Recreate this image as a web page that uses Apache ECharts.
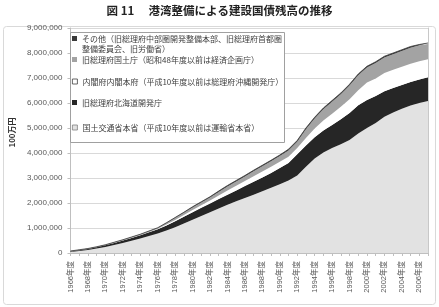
<!DOCTYPE html>
<html>
<head>
<meta charset="utf-8">
<script src="https://cdn.jsdelivr.net/npm/echarts@6/dist/echarts.min.js"></script>
<style>
  html, body { margin: 0; padding: 0; background: #fff; }
  #chart { width: 439px; height: 307px; }
</style>
</head>
<body>
<div id="chart"></div>
<script>
// 年度
const years = [
  "1966年度", "1967年度", "1968年度", "1969年度", "1970年度", "1971年度", "1972年度",
  "1973年度", "1974年度", "1975年度", "1976年度", "1977年度", "1978年度", "1979年度",
  "1980年度", "1981年度", "1982年度", "1983年度", "1984年度", "1985年度", "1986年度",
  "1987年度", "1988年度", "1989年度", "1990年度", "1991年度", "1992年度", "1993年度",
  "1994年度", "1995年度", "1996年度", "1997年度", "1998年度", "1999年度", "2000年度",
  "2001年度", "2002年度", "2003年度", "2004年度", "2005年度", "2006年度", "2007年度"
];

// 残高（100万円）— 下から積み上げ
const mlit = [
  40000, 80000, 120000, 180000, 240000, 320000, 400000, 490000, 580000, 680000,
  780000, 900000, 1030000, 1180000, 1330000, 1480000, 1630000, 1780000, 1930000, 2070000,
  2200000, 2330000, 2470000, 2610000, 2750000, 2900000, 3100000, 3450000, 3780000, 4020000,
  4200000, 4350000, 4520000, 4780000, 5000000, 5200000, 5450000, 5620000, 5770000, 5900000,
  6000000, 6080000
];
const hokkaido = [
  20000, 30000, 40000, 50000, 70000, 80000, 100000, 110000, 130000, 150000,
  170000, 200000, 240000, 270000, 300000, 330000, 350000, 380000, 400000, 430000,
  480000, 520000, 550000, 590000, 650000, 700000, 850000, 850000, 850000, 880000,
  920000, 1000000, 1080000, 1130000, 1120000, 1080000, 1020000, 980000, 950000, 940000,
  940000, 950000
];
const naikakufu = [
  0, 0, 5000, 5000, 5000, 10000, 10000, 10000, 10000, 10000,
  20000, 40000, 50000, 70000, 90000, 100000, 120000, 140000, 170000, 190000,
  200000, 220000, 240000, 250000, 250000, 250000, 250000, 300000, 350000, 400000,
  450000, 500000, 550000, 600000, 700000, 700000, 730000, 730000, 730000, 730000,
  730000, 720000
];
const kokudo = [
  10000, 10000, 5000, 5000, 5000, 10000, 10000, 20000, 20000, 30000,
  30000, 50000, 80000, 90000, 100000, 110000, 120000, 140000, 160000, 170000,
  180000, 200000, 210000, 220000, 230000, 250000, 250000, 350000, 400000, 450000,
  480000, 500000, 550000, 600000, 600000, 620000, 620000, 620000, 630000, 640000,
  640000, 610000
];
const sonota = [
  10000, 10000, 10000, 10000, 10000, 10000, 10000, 10000, 10000, 10000,
  10000, 20000, 20000, 20000, 30000, 30000, 30000, 40000, 40000, 40000,
  40000, 40000, 40000, 40000, 40000, 50000, 50000, 50000, 50000, 50000,
  50000, 50000, 50000, 50000, 50000, 50000, 50000, 50000, 50000, 50000,
  30000, 40000
];

const yTicks = { min: 0, max: 9000000, interval: 1000000 };

const names = {
  sonota: "その他（旧総理府中部圏開発整備本部、旧総理府首都圏整備委員会、旧労働省）",
  kokudo: "旧総理府国土庁（昭和48年度以前は経済企画庁）",
  naikakufu: "内閣府内閣本府（平成10年度以前は総理府沖縄開発庁）",
  hokkaido: "旧総理府北海道開発庁",
  mlit: "国土交通省本省（平成10年度以前は運輸省本省）"
};

const jp = '"Noto Sans CJK JP", sans-serif';
const num = '"Liberation Sans", "Noto Sans CJK JP", sans-serif';

const chart = echarts.init(document.getElementById("chart"));

function areaSeries(name, data, color, lineColor) {
  return {
    type: "line",
    name: name,
    stack: "total",
    data: data,
    symbol: "none",
    smooth: false,
    itemStyle: { color: color },
    lineStyle: { width: lineColor ? 0.8 : 0, color: lineColor || color },
    areaStyle: { color: color, opacity: 1 },
    emphasis: { disabled: true },
    z: 2
  };
}

// 凡例を1項目ずつ配置
function legendItem(name, top, border, label) {
  return {
    data: [{ name: name, itemStyle: border ? { borderColor: border, borderWidth: 0.8 } : {} }],
    left: 72,
    top: top,
    padding: 0,
    icon: "rect",
    itemWidth: 5,
    itemHeight: 5,
    selectedMode: false,
    z: 20,
    formatter: label ? () => label : undefined,
    textStyle: { fontSize: 8, lineHeight: 11, color: "#404040", fontFamily: jp }
  };
}

const option = {
  animation: false,
  title: {
    text: "図 11　 港湾整備による建設国債残高の推移",
    left: "center",
    top: 5,
    padding: 0,
    textStyle: { fontSize: 11.5, fontWeight: "bold", color: "#222", fontFamily: jp }
  },
  graphic: [
    {
      type: "rect",
      shape: { x: 3.5, y: 26.5, width: 432, height: 278, r: 3 },
      style: { fill: "none", stroke: "#d9d9d9", lineWidth: 1 },
      z: -1
    },
    {
      type: "rect",
      shape: { x: 70.5, y: 32.5, width: 214, height: 110 },
      style: { fill: "#fff", stroke: "#a0a0a0", lineWidth: 1 },
      z: 10
    },
    {
      type: "text",
      left: 82,
      top: 45,
      style: { text: "整備委員会、旧労働省）", fontSize: 8, fill: "#404040", fontFamily: jp },
      z: 11
    }
  ],
  legend: [
    legendItem(names.sonota, 33, null, "その他（旧総理府中部圏開発整備本部、旧総理府首都圏"),
    legendItem(names.kokudo, 54),
    legendItem(names.naikakufu, 76, "#404040"),
    legendItem(names.hokkaido, 97),
    legendItem(names.mlit, 122, "#808080")
  ],
  grid: { left: 62, right: 11, top: 28, bottom: 54, containLabel: false },
  xAxis: {
    type: "category",
    data: years,
    boundaryGap: false,
    axisLine: { lineStyle: { color: "#bfbfbf", width: 1 } },
    axisTick: { show: true, interval: 0, length: 3, lineStyle: { color: "#bfbfbf" } },
    axisLabel: {
      interval: 1,
      rotate: 90,
      margin: 8,
      fontSize: 7.5,
      color: "#595959",
      fontFamily: num
    },
    splitLine: { show: false }
  },
  yAxis: [
    {
      type: "value",
      min: yTicks.min,
      max: yTicks.max,
      interval: yTicks.interval,
      name: "100万円",
      nameLocation: "middle",
      nameRotate: 90,
      nameGap: 48,
      nameTextStyle: { fontSize: 8, color: "#333", fontFamily: jp, fontWeight: "bold", padding: [0, 0, 0, 16] },
      axisLine: { show: true, lineStyle: { color: "#bfbfbf" } },
      axisTick: { show: true, length: 3, lineStyle: { color: "#bfbfbf" } },
      axisLabel: {
        fontSize: 8,
        color: "#595959",
        margin: 8,
        fontFamily: num,
        formatter: (v) => v.toLocaleString("en-US")
      },
      splitLine: { lineStyle: { color: "#d9d9d9", width: 1 } }
    },
    {
      type: "value",
      position: "right",
      min: yTicks.min,
      max: yTicks.max,
      interval: yTicks.interval,
      axisLine: { show: true, lineStyle: { color: "#c8c8c8" } },
      axisTick: { show: false },
      axisLabel: { show: false },
      splitLine: { show: false }
    }
  ],
  series: [
    areaSeries(names.mlit, mlit, "#e2e2e2"),
    areaSeries(names.hokkaido, hokkaido, "#262626"),
    areaSeries(names.naikakufu, naikakufu, "#ffffff"),
    areaSeries(names.kokudo, kokudo, "#a3a3a3"),
    areaSeries(names.sonota, sonota, "#3a3a3a", "#3a3a3a")
  ]
};

chart.setOption(option);
</script>
</body>
</html>
